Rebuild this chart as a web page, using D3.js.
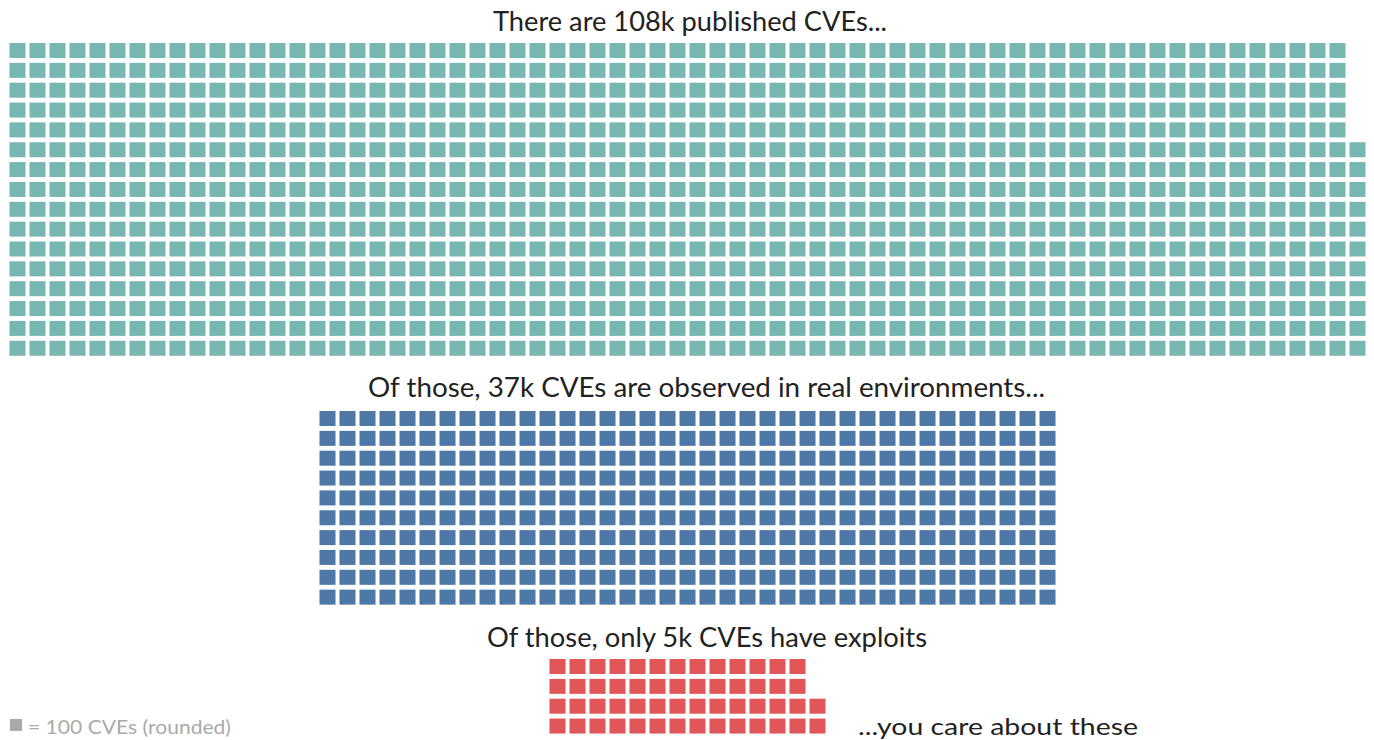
<!DOCTYPE html>
<html>
<head>
<meta charset="utf-8">
<script src="https://cdn.jsdelivr.net/npm/d3@7"></script>
<style>
  html, body { margin: 0; padding: 0; background: #fff; }
  svg { display: block; }
  text { font-family: Lato, "Noto Sans", sans-serif; }
</style>
</head>
<body>
<svg id="chart" width="1374" height="740"></svg>
<script>
// Each square stands for 100 CVEs (rounded)
const groups = ["published", "observed", "exploitable"];
const titles = [
  "There are 108k published CVEs...",
  "Of those, 37k CVEs are observed in real environments...",
  "Of those, only 5k CVEs have exploits"
];
const squareCounts = [1083, 370, 54];
const rowCounts = [16, 10, 4];
const colors = ["#76b7b2", "#4e79a7", "#e15759"];
const unitLabel = "= 100 CVEs (rounded)";
const footnote = "...you care about these";

const svg = d3.select("#chart");
const centerX = 687.5;
const pitchX = 20, pitchY = 19.85, cellW = 16, cellH = 15;

// layout of each waffle block: top of grid, title baseline, title centre, title width
const blocks = [
  { top: 43,  titleY: 31,  titleX: 690,   titleW: 394 },
  { top: 411, titleY: 397, titleX: 706.5, titleW: 677 },
  { top: 659, titleY: 647, titleX: 707,   titleW: 440 }
];

groups.forEach((g, gi) => {
  const n = squareCounts[gi];
  const rows = rowCounts[gi];
  const cols = Math.ceil(n / rows);
  const b = blocks[gi];
  const gridW = cols * pitchX - (pitchX - cellW);
  const x0 = centerX - gridW / 2;

  const x = d3.scaleLinear().domain([0, 1]).range([x0, x0 + pitchX]);
  // rows counted from the bottom of the block
  const y = d3.scaleLinear().domain([rows - 1, rows - 2]).range([b.top, b.top + pitchY]);

  const cells = d3.range(n).map(i => ({ col: Math.floor(i / rows), row: i % rows }));

  const grp = svg.append("g").attr("class", "waffle " + g);
  grp.selectAll("rect")
    .data(cells)
    .join("rect")
    .attr("x", d => x(d.col))
    .attr("y", d => y(d.row))
    .attr("width", cellW)
    .attr("height", cellH)
    .attr("fill", colors[gi]);

  svg.append("text")
    .attr("x", b.titleX)
    .attr("y", b.titleY)
    .attr("text-anchor", "middle")
    .attr("font-size", 26)
    .attr("fill", "#222")
    .attr("textLength", b.titleW)
    .attr("lengthAdjust", "spacingAndGlyphs")
    .text(titles[gi]);
});

// footnote next to the smallest block
svg.append("text")
  .attr("x", 858)
  .attr("y", 735)
  .attr("font-size", 24)
  .attr("fill", "#222")
  .attr("textLength", 280)
  .attr("lengthAdjust", "spacingAndGlyphs")
  .text(footnote);

// unit legend
svg.append("rect")
  .attr("x", 10).attr("y", 719)
  .attr("width", 12).attr("height", 12)
  .attr("fill", "#aaaaaa");
svg.append("text")
  .attr("x", 28)
  .attr("y", 734)
  .attr("font-size", 20)
  .attr("fill", "#aaaaaa")
  .attr("textLength", 203)
  .attr("lengthAdjust", "spacingAndGlyphs")
  .text(unitLabel);
</script>
</body>
</html>
